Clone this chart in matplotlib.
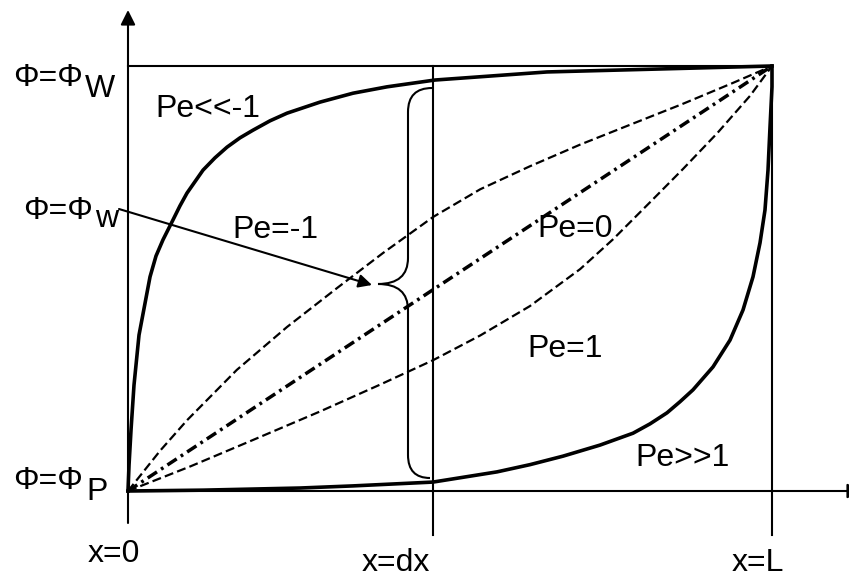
import matplotlib.pyplot as plt
from matplotlib.path import Path
from matplotlib.patches import PathPatch

plt.rcParams['font.family'] = ['Liberation Sans', 'DejaVu Sans']
plt.rcParams['lines.scale_dashes'] = False

# curves: x/L and normalised phi
x_strong_neg = [0, 0.0016, 0.0047, 0.0093, 0.0171, 0.0342, 0.0435, 0.0543, 0.0699, 0.0807,
                0.0916, 0.1165, 0.1351, 0.1537, 0.1739, 0.1941, 0.2205, 0.2469, 0.2981,
                0.3494, 0.4022, 0.4767, 0.6506, 0.8261, 1.0]
phi_strong_neg = [0, 0.061, 0.144, 0.249, 0.367, 0.504, 0.553, 0.591, 0.638, 0.671,
                  0.701, 0.755, 0.784, 0.809, 0.831, 0.849, 0.871, 0.889, 0.915,
                  0.936, 0.951, 0.967, 0.986, 0.993, 1.0]

x_neg1 = [0, 0.05, 0.092, 0.169, 0.247, 0.325, 0.396, 0.474, 0.547, 0.624, 0.702,
          0.780, 0.860, 0.939, 1.0]
phi_neg1 = [0, 0.095, 0.167, 0.285, 0.386, 0.478, 0.560, 0.645, 0.710, 0.764, 0.815,
            0.862, 0.910, 0.960, 1.0]

x_zero = [0, 1.0]
phi_zero = [0, 1.0]

x_pos1 = [0, 0.097, 0.194, 0.298, 0.391, 0.474, 0.547, 0.624, 0.702, 0.753, 0.811,
          0.862, 0.915, 0.966, 1.0]
phi_pos1 = [0, 0.058, 0.120, 0.187, 0.250, 0.308, 0.366, 0.435, 0.522, 0.592, 0.680,
            0.758, 0.842, 0.930, 1.0]

x_strong_pos = [0, 0.1165, 0.2671, 0.3494, 0.4736, 0.5730, 0.6242, 0.6755, 0.7329, 0.7842,
                0.8106, 0.8370, 0.8571, 0.8773, 0.9084, 0.9348, 0.9550, 0.9705, 0.9814,
                0.9891, 0.9938, 0.9969, 1.0, 1.0]
phi_strong_pos = [0, 0.002, 0.007, 0.012, 0.021, 0.045, 0.062, 0.082, 0.108, 0.136,
                  0.158, 0.184, 0.210, 0.238, 0.292, 0.355, 0.426, 0.504, 0.584,
                  0.661, 0.755, 0.856, 0.951, 1.0]

x_dx = 0.4736

# pixel -> data helpers (x=0 at px 128, x=L at 772; phi_P at 491, phi_W at 66)
def X(px):
    return (px - 128) / 644.0

def Y(py):
    return (491 - py) / 425.0

fig = plt.figure(figsize=(8.49, 5.79), dpi=100)
ax = fig.add_axes([0, 0, 1, 1])
ax.set_xlim(X(0), X(849))
ax.set_ylim(Y(579), Y(0))
ax.axis('off')

k = 'black'
# axes with arrows
ax.annotate('', xy=(0, Y(10)), xytext=(0, Y(523)), annotation_clip=False,
            arrowprops=dict(arrowstyle='-|>', color=k, lw=1.5, mutation_scale=22,
                            shrinkA=0, shrinkB=0))
ax.annotate('', xy=(X(862), 0), xytext=(0, 0), annotation_clip=False,
            arrowprops=dict(arrowstyle='-|>', color=k, lw=1.5, mutation_scale=22,
                            shrinkA=0, shrinkB=0))
ax.plot([0, 1], [1, 1], color=k, lw=1.5)
ax.plot([x_dx, x_dx], [Y(535), 1], color=k, lw=1.5)
ax.plot([1, 1], [Y(535), 1], color=k, lw=1.5)

# curves
ax.plot(x_strong_neg, phi_strong_neg, color=k, lw=2.6, solid_joinstyle='round')
ax.plot(x_strong_pos, phi_strong_pos, color=k, lw=2.6, solid_joinstyle='round')
ax.plot(x_neg1, phi_neg1, color=k, lw=1.6, dashes=(6.5, 3.0))
ax.plot(x_pos1, phi_pos1, color=k, lw=1.6, dashes=(6.5, 3.0))
ax.plot(x_zero, phi_zero, color=k, lw=2.5, dashes=(8, 3.5, 2, 3.5))

# curly brace at x=dx
pts = [(432, 88), (408, 88), (408, 112), (408, 258), (408, 284), (378, 284),
       (408, 284), (408, 310), (408, 455), (408, 478), (430, 478)]
codes = [Path.MOVETO, Path.CURVE3, Path.CURVE3, Path.LINETO, Path.CURVE3, Path.CURVE3,
         Path.CURVE3, Path.CURVE3, Path.LINETO, Path.CURVE3, Path.CURVE3]
brace = Path([(X(a), Y(b)) for a, b in pts], codes)
ax.add_patch(PathPatch(brace, fill=False, color=k, lw=1.5))

ax.annotate('', xy=(X(372), Y(285)), xytext=(X(119), Y(209)),
            arrowprops=dict(arrowstyle='-|>', color=k, lw=1.5, mutation_scale=20,
                            shrinkA=0, shrinkB=0))

fs = 23
def label(px, py, s):
    ax.text(X(px), Y(py), s, fontsize=fs, ha='left', va='baseline', color=k)

label(13, 86, 'Φ=Φ')
label(85, 97, 'W')
label(23, 219, 'Φ=Φ')
label(95, 227, 'w')
label(13, 489, 'Φ=Φ')
label(86, 500, 'P')
label(88, 562, 'x=0')
label(362, 571, 'x=dx')
label(732, 571, 'x=L')
label(155, 117, 'Pe<<-1')
label(232, 238, 'Pe=-1')
label(537, 237, 'Pe=0')
label(527, 357, 'Pe=1')
label(635, 466, 'Pe>>1')

fig.savefig('out.png', dpi=100)
